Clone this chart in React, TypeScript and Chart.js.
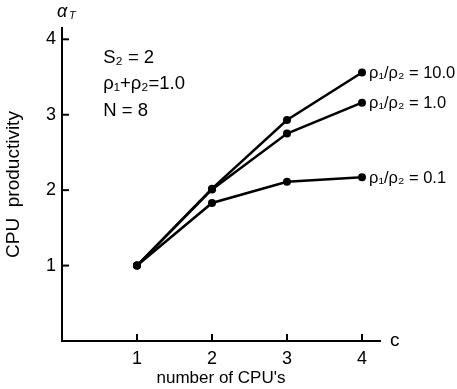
import React, { useEffect, useRef } from "react";
import { Chart, registerables } from "chart.js";

Chart.register(...registerables);

const cpus = [1, 2, 3, 4];
const ratio10 = [1.0, 2.02, 2.93, 3.56];
const ratio1 = [1.0, 2.01, 2.75, 3.16];
const ratio01 = [1.0, 1.83, 2.11, 2.17];
const seriesLabels = ["ρ₁/ρ₂ = 10.0", "ρ₁/ρ₂ = 1.0", "ρ₁/ρ₂ = 0.1"];
const xTicks = [1, 2, 3, 4];
const yTicks = [1, 2, 3, 4];
const noteLines = ["S₂ = 2", "ρ₁+ρ₂=1.0", "N = 8"];

const FONT = "'Liberation Sans', Arial, sans-serif";

const overlay = {
  id: "overlay",
  afterDraw(chart: any) {
    const ctx = chart.ctx;
    const xs = chart.scales.x;
    const ys = chart.scales.y;
    const area = chart.chartArea;
    ctx.save();
    ctx.strokeStyle = "#000";
    ctx.lineWidth = 2;
    // inward tick marks
    yTicks.forEach((v) => {
      const py = ys.getPixelForValue(v);
      ctx.beginPath();
      ctx.moveTo(area.left, py);
      ctx.lineTo(area.left + 7, py);
      ctx.stroke();
    });
    xTicks.forEach((v) => {
      const px = xs.getPixelForValue(v);
      ctx.beginPath();
      ctx.moveTo(px, area.bottom);
      ctx.lineTo(px, area.bottom - 7);
      ctx.stroke();
    });
    ctx.fillStyle = "#000";
    // end labels
    ctx.font = `16.5px ${FONT}`;
    ctx.textBaseline = "middle";
    ctx.textAlign = "left";
    chart.data.datasets.forEach((ds: any, i: number) => {
      const meta = chart.getDatasetMeta(i);
      const last = meta.data[meta.data.length - 1];
      ctx.fillText(seriesLabels[i], last.x + 7, last.y + 1);
    });
    // notes
    ctx.font = `18.5px ${FONT}`;
    const nx = xs.getPixelForValue(0.55);
    [3.75, 3.41, 3.05].forEach((v, i) => {
      ctx.fillText(noteLines[i], nx, ys.getPixelForValue(v));
    });
    // axis end labels
    ctx.font = `19px ${FONT}`;
    ctx.fillText("c", area.right + 10, area.bottom);
    ctx.font = `italic 18px ${FONT}`;
    ctx.fillText("α", area.left - 5, 12);
    ctx.font = `italic 11px ${FONT}`;
    ctx.fillText("T", area.left + 7, 16);
    ctx.restore();
  },
};

export default function App() {
  const ref = useRef<HTMLCanvasElement>(null);
  useEffect(() => {
    document.body.style.margin = "0";
    const mk = (data: any) => ({
      data,
      showLine: true,
      borderColor: "#000",
      backgroundColor: "#000",
      borderWidth: 2.5,
      pointRadius: 4,
      pointBackgroundColor: "#000",
      pointBorderWidth: 0,
      tension: 0,
    });
    const chart = new Chart(ref.current!, {
      type: "scatter",
      data: {
        datasets: [ratio10, ratio1, ratio01].map((s) =>
          mk(s.map((v, i) => ({ x: cpus[i], y: v })))
        ),
      },
      options: {
        animation: false,
        responsive: false,
        maintainAspectRatio: false,
        layout: { padding: { top: 28, right: 77, left: 0, bottom: 0 } },
        plugins: { legend: { display: false }, tooltip: { enabled: false } },
        scales: {
          x: {
            type: "linear",
            min: 0,
            max: 4.24,
            grid: { display: false, drawTicks: false },
            border: { display: true, color: "#000", width: 2 },
            afterBuildTicks: (s: any) => {
              s.ticks = xTicks.map((v) => ({ value: v }));
            },
            afterFit: (s: any) => {
              s.height = 48;
            },
            ticks: {
              color: "#000",
              font: { size: 18, family: FONT },
              padding: 7,
              autoSkip: false,
              maxRotation: 0,
            },
            title: {
              display: true,
              text: "number of CPU's",
              color: "#000",
              font: { size: 17, family: FONT },
              padding: { top: 0, bottom: 0 },
            },
          },
          y: {
            type: "linear",
            min: 0,
            max: 4.15,
            grid: { display: false, drawTicks: false },
            border: { display: true, color: "#000", width: 2 },
            afterBuildTicks: (s: any) => {
              s.ticks = yTicks.map((v) => ({ value: v }));
            },
            afterFit: (s: any) => {
              s.width = 62;
            },
            ticks: {
              color: "#000",
              font: { size: 18, family: FONT },
              padding: 6,
            },
            title: {
              display: true,
              text: "CPU  productivity",
              color: "#000",
              font: { size: 19, family: FONT },
              padding: { top: 2, bottom: 0 },
            },
          },
        },
      },
      plugins: [overlay],
    });
    return () => chart.destroy();
  }, []);
  return (
    <div style={{ position: "fixed", left: 0, top: 0, width: 457, height: 389, background: "#fff" }}>
      <canvas ref={ref} width={457} height={389} style={{ width: 457, height: 389 }} />
    </div>
  );
}
